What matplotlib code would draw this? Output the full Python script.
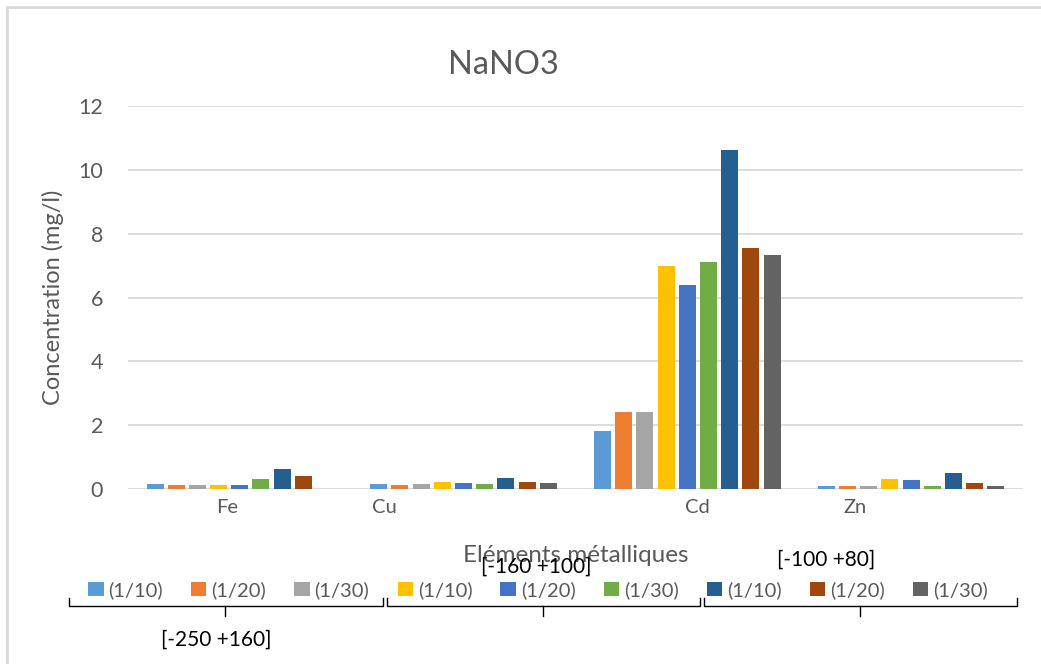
import numpy as np
import matplotlib.pyplot as plt
from matplotlib.lines import Line2D
from matplotlib.patches import Rectangle

plt.rcParams['font.family'] = ['Lato', 'DejaVu Sans']

W, H = 1041, 664

elements = ['Fe', 'Cu', 'Cd', 'Zn']
series_labels = ['(1/10)', '(1/20)', '(1/30)'] * 3
size_ranges = ['[-250 +160]', '[-160 +100]', '[-100 +80]']

# one row per series (fraction x dilution), one column per element
values = [
    [0.15, 0.17, 1.83, 0.08],
    [0.14, 0.13, 2.42, 0.08],
    [0.13, 0.15, 2.42, 0.08],
    [0.12, 0.22, 6.99, 0.30],
    [0.12, 0.19, 6.39, 0.29],
    [0.32, 0.15, 7.10, 0.10],
    [0.63, 0.36, 10.63, 0.51],
    [0.41, 0.21, 7.56, 0.19],
    [0.00, 0.18, 7.33, 0.10],
]
colors = ['#5B9BD5', '#ED7D31', '#A5A5A5', '#FFC000', '#4472C4',
          '#70AD47', '#255E91', '#9E480E', '#636363']

txt = '#595959'
grid = '#D9D9D9'


def fx(x):
    return x / W


def fy(y):
    return 1 - y / H


fig = plt.figure(figsize=(W / 100, H / 100), dpi=100)
ax = fig.add_axes([fx(128), fy(489), fx(1023) - fx(128), fy(106) - fy(489)])

# chart frame
fig.add_artist(Rectangle((fx(7), fy(H + 10)), 1.2, fy(7) - fy(H + 10),
                         transform=fig.transFigure, fill=False,
                         edgecolor=grid, lw=2))

x = np.arange(len(elements))
slot = 0.0947
bw = 0.076
handles = []
for i, (vals, c) in enumerate(zip(values, colors)):
    off = -0.4265 + slot * (i + 0.5)
    b = ax.bar(x + off, vals, width=bw, color=c, zorder=3)
    handles.append(b)

ax.set_xlim(-0.5, 3.5)
ax.set_ylim(0, 12)
ax.set_yticks(range(0, 13, 2))
ax.yaxis.grid(True, color=grid, lw=1.3, zorder=0)
for s in ax.spines.values():
    s.set_visible(False)
ax.tick_params(axis='y', length=0, pad=18, labelsize=15.5, labelcolor=txt)

# element labels sit on the category axis
px_to_data = lambda p: (p - 128) / (1023 - 128) * 4 - 0.5
ax.set_xticks([px_to_data(p) for p in (227, 384, 697, 855)])
ax.set_xticklabels(elements)
ax.tick_params(axis='x', length=0, pad=7, labelsize=14.5, labelcolor=txt)

ax.set_ylabel('Concentration (mg/l)', fontsize=17, color=txt, labelpad=10)
fig.text(fx(503), fy(65), 'NaNO3', fontsize=23.5, color=txt,
         ha='center', va='center')
fig.text(fx(576), fy(556), 'Eléments métalliques', fontsize=17.5, color=txt,
         ha='center', va='center')

fig.legend(handles, series_labels, loc='center',
           bbox_to_anchor=(fx(538), fy(590)), ncol=9, frameon=False,
           fontsize=14.5, labelcolor=txt, handlelength=0.75, handleheight=0.75,
           handletextpad=0.25, columnspacing=1.4)

# brackets grouping the size fractions
for left, right, mid in [(69, 383, 225), (387, 700, 543), (704, 1017, 860)]:
    fig.add_artist(Line2D([fx(left), fx(left), fx(right), fx(right)],
                          [fy(598), fy(606), fy(606), fy(598)],
                          color='black', lw=1))
    fig.add_artist(Line2D([fx(mid), fx(mid)], [fy(606), fy(616)],
                          color='black', lw=1))

for (px, py), s in zip([(216, 640), (536, 567), (826, 560)], size_ranges):
    fig.text(fx(px), fy(py), s, fontsize=15, color='black',
             ha='center', va='center')

fig.savefig('out.png', dpi=100)
